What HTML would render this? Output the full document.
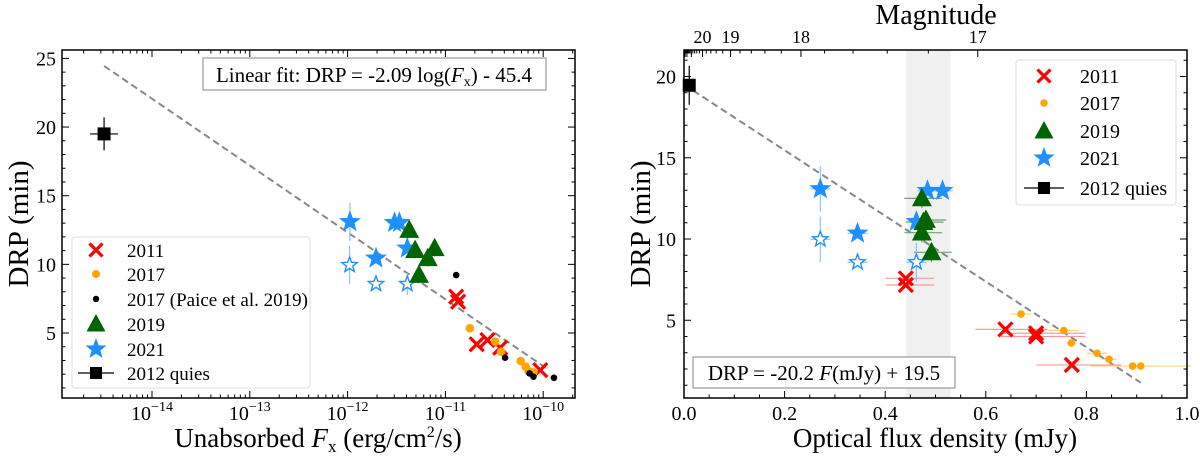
<!DOCTYPE html>
<html><head><meta charset="utf-8"><style>
html,body{margin:0;padding:0;background:#fff;}
svg{display:block;font-family:"Liberation Serif",serif;}
</style></head><body>
<svg id="fig" width="1200" height="458" viewBox="0 0 1200 458" xmlns="http://www.w3.org/2000/svg"></svg>
<script>
// ---------- LEFT PANEL DATA (log10 Fx, DRP) ----------
const L_quies_x=[-14.49], L_quies_y=[19.5];
const L_2021f_x=[-11.976,-11.52,-11.47,-11.39,-11.71], L_2021f_y=[13.1,13.03,13.03,11.17,10.44];
const L_2021o_x=[-11.98,-11.71,-11.39], L_2021o_y=[9.95,8.57,8.57];
const L_2019_x=[-11.37,-11.31,-11.11,-11.18,-11.27], L_2019_y=[12.5,11.04,11.17,10.44,9.22];
const L_2011_x=[-10.89,-10.87,-10.68,-10.57,-10.44,-10.03], L_2011_y=[7.65,7.28,4.18,4.49,3.93,2.3];
const L_2017_x=[-10.75,-10.49,-10.43,-10.23,-10.18,-10.15,-10.10], L_2017_y=[5.34,4.37,3.64,2.96,2.55,2.23,2.13];
const L_paice_x=[-10.89,-10.39,-10.14,-10.10,-9.89], L_paice_y=[9.22,3.2,2.06,1.82,1.74];
const L_fit_x=[-14.49,-9.94], L_fit_y=[24.45,2.3];
const L_yticks=[5,10,15,20,25], L_xticks=[-14,-13,-12,-11,-10];
// ---------- RIGHT PANEL DATA (F mJy, DRP) ----------
const R_quies_x=[0.0104], R_quies_y=[19.46];
const R_2021f_x=[0.271,0.345,0.462,0.484,0.514], R_2021f_y=[13.08,10.35,11.07,12.97,12.97];
const R_2021o_x=[0.271,0.345,0.462], R_2021o_y=[9.98,8.57,8.57];
const R_2019_x=[0.473,0.481,0.476,0.473,0.492], R_2019_y=[12.5,11.17,11.04,10.39,9.18];
const R_2011_x=[0.441,0.441,0.639,0.70,0.70,0.771], R_2011_y=[7.58,7.17,4.44,4.2,4.0,2.25];
const R_2011_xe=[0.04,0.04,0.06,0.07,0.07,0.07];
const R_2017_x=[0.670,0.755,0.770,0.821,0.845,0.892,0.908], R_2017_y=[5.38,4.37,3.6,2.97,2.6,2.18,2.18];
const R_2017_xe=[0.02,0.03,0.01,0.02,0.015,0.02,0.1];
const R_fit=[-20.2,19.5], R_fit_range=[0,0.908];
const R_band=[0.442,0.53];
const R_yticks=[5,10,15,20], R_xticks=[0,0.2,0.4,0.6,0.8,1.0];
const R_mags=[17,18,19,20];

const NS="http://www.w3.org/2000/svg";
const svg=document.getElementById('fig');
function el(tag,attrs,parent){const e=document.createElementNS(NS,tag);for(const k in attrs)e.setAttribute(k,attrs[k]);(parent||svg).appendChild(e);return e;}

const Lx=v=>152+(v+14)*97.8, Ly=v=>333-(v-5)*13.73;
const Rx=v=>684+v*503, Ry=v=>239-(v-10)*16.25;
const LF={l:62,r:575,t:50,b:398}, RF={l:684,r:1187,t:50,b:398};

function star(g,cx,cy,r,fill,stroke){
  let p=[];for(let i=0;i<10;i++){const a=-Math.PI/2+i*Math.PI/5;const rr=i%2?r*0.42:r;p.push((cx+rr*Math.cos(a)).toFixed(1)+','+(cy+rr*Math.sin(a)).toFixed(1));}
  return el('polygon',{points:p.join(' '),fill:fill,stroke:stroke,'stroke-width':1.4},g);
}
function tri(g,cx,cy,r,fill){return el('polygon',{points:`${cx},${cy-r} ${cx-r*0.95},${cy+r*0.75} ${cx+r*0.95},${cy+r*0.75}`,fill:fill},g);}
function xm(g,cx,cy,r,col){el('path',{d:`M${cx-r},${cy-r}L${cx+r},${cy+r}M${cx-r},${cy+r}L${cx+r},${cy-r}`,stroke:col,'stroke-width':3.2},g);}
function txt(g,x,y,s,size,anchor,extra){const t=el('text',Object.assign({x:x,y:y,'font-size':size,'text-anchor':anchor||'start',fill:'#000'},extra||{}),g);t.innerHTML=s;return t;}

// ================= LEFT PANEL =================
const gl=el('g',{});


const lfit=el('line',{x1:Lx(L_fit_x[0]),y1:Ly(L_fit_y[0]),x2:Lx(L_fit_x[1]),y2:Ly(L_fit_y[1]),stroke:'#888','stroke-width':2,'stroke-dasharray':'7,4'},gl);


function errv(g,x,y1,y2,col){el('line',{x1:x,x2:x,y1:y1,y2:y2,stroke:col,'stroke-width':1.2},g);}
function errh(g,y,x1,x2,col){el('line',{x1:x1,x2:x2,y1:y,y2:y,stroke:col,'stroke-width':1.2},g);}
errv(gl,Lx(L_2021f_x[0]),Ly(L_2021f_y[0]+1.4),Ly(L_2021f_y[0]-1.4),'#8cc4ff');
errv(gl,Lx(L_2021o_x[0]),Ly(L_2021o_y[0]+1.4),Ly(L_2021o_y[0]-1.4),'#8cc4ff');
errv(gl,Lx(L_2021o_x[2]),Ly(L_2021o_y[2]+0.8),Ly(L_2021o_y[2]-0.8),'#8cc4ff');
L_2019_x.forEach((x,i)=>errv(gl,Lx(x),Ly(L_2019_y[i]+0.6),Ly(L_2019_y[i]-0.6),'#5a9a5a'));
errv(gl,Lx(L_quies_x[0]),Ly(L_quies_y[0]+1.2),Ly(L_quies_y[0]-1.2),'#000');
errh(gl,Ly(L_quies_y[0]),Lx(L_quies_x[0])-14,Lx(L_quies_x[0])+14,'#000');
L_quies_x.forEach((x,i)=>{const r=el('rect',{x:Lx(x)-6.5,y:Ly(L_quies_y[i])-6.5,width:13,height:13,fill:'#000'},gl);

});
L_2021f_x.forEach((x,i)=>{const s=star(gl,Lx(x),Ly(L_2021f_y[i]),9.5,'#1e90ff','#1e90ff');

});
L_2021o_x.forEach((x,i)=>{const s=star(gl,Lx(x),Ly(L_2021o_y[i]),8,'#fff','#1e90ff');

});
L_2019_x.forEach((x,i)=>{const t=tri(gl,Lx(x),Ly(L_2019_y[i]),10.5,'#006400');

});
L_2011_x.forEach((x,i)=>xm(gl,Lx(x),Ly(L_2011_y[i]),7,'#ff0000'));
L_2017_x.forEach((x,i)=>{const c=el('circle',{cx:Lx(x),cy:Ly(L_2017_y[i]),r:4.3,fill:'#ffa500'},gl);

});
L_paice_x.forEach((x,i)=>{const c=el('circle',{cx:Lx(x),cy:Ly(L_paice_y[i]),r:3.3,fill:'#000'},gl);

});
el('rect',{x:LF.l,y:LF.t,width:LF.r-LF.l,height:LF.b-LF.t,fill:'none',stroke:'#000','stroke-width':1.5},gl);
for(let v=1;v<=25;v++){const y=Ly(v);if(y<LF.t||y>LF.b)continue;const len=v%5?3.5:7;
el('line',{x1:LF.l,x2:LF.l+len,y1:y,y2:y,stroke:'#000'},gl);el('line',{x1:LF.r,x2:LF.r-len,y1:y,y2:y,stroke:'#000'},gl);}
L_yticks.forEach(v=>txt(gl,LF.l-6,Ly(v)+7,v,20,'end'));
for(let d=-15;d<=-10;d++){for(let m=1;m<10;m++){const lv=d+Math.log10(m);const x=Lx(lv);if(x<LF.l||x>LF.r)continue;const len=m==1?7:3.5;
el('line',{x1:x,x2:x,y1:LF.b,y2:LF.b-len,stroke:'#000'},gl);el('line',{x1:x,x2:x,y1:LF.t,y2:LF.t+len,stroke:'#000'},gl);}}
L_xticks.forEach(v=>{const t=txt(gl,Lx(v),420,'10',20,'middle');const s=el('tspan',{'font-size':14,dy:-9},t);s.textContent='−'+(-v);});
txt(gl,18,224,'DRP (min)',29,'middle',{transform:'rotate(-90 18 224)',dy:10});
const lxl=txt(gl,318,447,'Unabsorbed <tspan font-style="italic">F</tspan><tspan font-size="17" dy="5">x</tspan><tspan dy="-5"> (erg/cm</tspan><tspan font-size="16" dy="-10">2</tspan><tspan dy="10">/s)</tspan>',27,'middle');


el('rect',{x:203,y:58,width:343,height:32,fill:'#fff',stroke:'#999','stroke-width':1.2},gl);
txt(gl,374,82,'Linear fit: DRP = -2.09 log(<tspan font-style="italic">F</tspan><tspan font-size="14" dy="4">x</tspan><tspan dy="-4">) - 45.4</tspan>',21,'middle');
const lg=el('g',{},gl);


el('rect',{x:72,y:237,width:238,height:151,rx:3,fill:'#fff',stroke:'#ddd'},lg);
const ly=[250,274,299,324,349,373];
xm(lg,96,ly[0],6.5,'#ff0000');
el('circle',{cx:96,cy:ly[1],r:4,fill:'#ffa500'},lg);
el('circle',{cx:96,cy:ly[2],r:3.2,fill:'#000'},lg);
tri(lg,96,ly[3],10,'#006400');
star(lg,96,ly[4],9,'#1e90ff','#1e90ff');
el('line',{x1:78,x2:114,y1:ly[5],y2:ly[5],stroke:'#000','stroke-width':1.2},lg);
el('rect',{x:90,y:ly[5]-6,width:12,height:12,fill:'#000'},lg);
['2011','2017','2017 (Paice et al. 2019)','2019','2021','2012 quies'].forEach((s,i)=>txt(lg,127,ly[i]+7,s,19));

// ================= RIGHT PANEL =================
const gr=el('g',{});


const band=el('rect',{x:Rx(R_band[0]),y:RF.t,width:Rx(R_band[1])-Rx(R_band[0]),height:RF.b-RF.t,fill:'#f0f0f0'},gr);


const rfit=el('line',{x1:Rx(R_fit_range[0]),y1:Ry(R_fit[0]*R_fit_range[0]+R_fit[1]),x2:Rx(R_fit_range[1]),y2:Ry(R_fit[0]*R_fit_range[1]+R_fit[1]),stroke:'#888','stroke-width':2,'stroke-dasharray':'7,4'},gr);


R_2011_x.forEach((x,i)=>errh(gr,Ry(R_2011_y[i]),Rx(x-R_2011_xe[i]),Rx(x+R_2011_xe[i]*1.4),'#ff9999'));
R_2017_x.forEach((x,i)=>{errh(gr,Ry(R_2017_y[i]),Rx(x-R_2017_xe[i]),Rx(x+R_2017_xe[i]),'#ffd27a');});
R_2019_x.forEach((x,i)=>{errh(gr,Ry(R_2019_y[i]),Rx(x-0.035),Rx(x+0.04),'#6aa86a');errv(gr,Rx(x),Ry(R_2019_y[i]+0.6),Ry(R_2019_y[i]-0.6),'#6aa86a');});
R_2021f_x.forEach((x,i)=>{errh(gr,Ry(R_2021f_y[i]),Rx(x-0.02),Rx(x+0.02),'#8cc4ff');});
errv(gr,Rx(R_2021f_x[0]),Ry(R_2021f_y[0]+1.4),Ry(R_2021f_y[0]-1.4),'#8cc4ff');
errv(gr,Rx(R_2021o_x[0]),Ry(R_2021o_y[0]+1.4),Ry(R_2021o_y[0]-1.4),'#8cc4ff');
errv(gr,Rx(R_2021o_x[2]),Ry(R_2021o_y[2]+1.2),Ry(R_2021o_y[2]-1.2),'#8cc4ff');
R_2021o_x.forEach((x,i)=>errh(gr,Ry(R_2021o_y[i]),Rx(x-0.02),Rx(x+0.02),'#8cc4ff'));
errv(gr,Rx(R_quies_x[0]),Ry(R_quies_y[0]+1.2),Ry(R_quies_y[0]-1.2),'#000');
R_quies_x.forEach((x,i)=>{const r=el('rect',{x:Rx(x)-6.5,y:Ry(R_quies_y[i])-6.5,width:13,height:13,fill:'#000'},gr);

});
R_2021f_x.forEach((x,i)=>{const s=star(gr,Rx(x),Ry(R_2021f_y[i]),9.5,'#1e90ff','#1e90ff');

});
R_2021o_x.forEach((x,i)=>{const s=star(gr,Rx(x),Ry(R_2021o_y[i]),8,'#fff','#1e90ff');

});
R_2019_x.forEach((x,i)=>{const t=tri(gr,Rx(x),Ry(R_2019_y[i]),10.5,'#006400');

});
R_2011_x.forEach((x,i)=>xm(gr,Rx(x),Ry(R_2011_y[i]),7,'#ff0000'));
R_2017_x.forEach((x,i)=>{const c=el('circle',{cx:Rx(x),cy:Ry(R_2017_y[i]),r:3.8,fill:'#ffa500'},gr);

});
el('rect',{x:RF.l,y:RF.t,width:RF.r-RF.l,height:RF.b-RF.t,fill:'none',stroke:'#000','stroke-width':1.5},gr);
for(let v=1;v<=21;v++){const y=Ry(v);if(y<RF.t||y>RF.b)continue;const len=v%5?3.5:7;
el('line',{x1:RF.l,x2:RF.l+len,y1:y,y2:y,stroke:'#000'},gr);el('line',{x1:RF.r,x2:RF.r-len,y1:y,y2:y,stroke:'#000'},gr);}
R_yticks.forEach(v=>txt(gr,RF.l-8,Ry(v)+7,v,20,'end'));
for(let k=0;k<=20;k++){const x=Rx(k*0.05);const len=k%4?3.5:7;el('line',{x1:x,x2:x,y1:RF.b,y2:RF.b-len,stroke:'#000'},gr);}
R_xticks.forEach(v=>txt(gr,Rx(v),420,v.toFixed(1),20,'middle'));
const F17=0.584; const magF=m=>F17*Math.pow(10,-0.4*(m-17));
for(let m=17;m<=32;m+=0.2){const x=Rx(magF(m));const maj=Math.abs(m-Math.round(m))<1e-6;el('line',{x1:x,x2:x,y1:RF.t,y2:RF.t+(maj?7:3.5),stroke:'#000'},gr);}
R_mags.forEach(m=>txt(gr,Rx(magF(m)),43,m,18,'middle'));
txt(gr,936,24,'Magnitude',28,'middle');
txt(gr,640,224,'DRP (min)',29,'middle',{transform:'rotate(-90 640 224)',dy:10});
const rxl=txt(gr,935,447,'Optical flux density (mJy)',27,'middle');


el('rect',{x:693,y:357,width:262,height:31,fill:'#fff',stroke:'#999','stroke-width':1.2},gr);
txt(gr,824,380,'DRP = -20.2 <tspan font-style="italic">F</tspan>(mJy) + 19.5',21,'middle');
const rg=el('g',{},gr);


el('rect',{x:1016,y:60,width:160,height:145,rx:3,fill:'#fff',stroke:'#ddd'},rg);
const ry=[76,103,131,158,188];
xm(rg,1044,ry[0],6.5,'#ff0000');
el('circle',{cx:1044,cy:ry[1],r:3.8,fill:'#ffa500'},rg);
tri(rg,1044,ry[2],10,'#006400');
star(rg,1044,ry[3],9,'#1e90ff','#1e90ff');
el('line',{x1:1024,x2:1064,y1:ry[4],y2:ry[4],stroke:'#000','stroke-width':1.2},rg);
el('rect',{x:1038,y:ry[4]-6,width:12,height:12,fill:'#000'},rg);
['2011','2017','2019','2021','2012 quies'].forEach((s,i)=>txt(rg,1080,ry[i]+7,s,20));
</script>
</body></html>
